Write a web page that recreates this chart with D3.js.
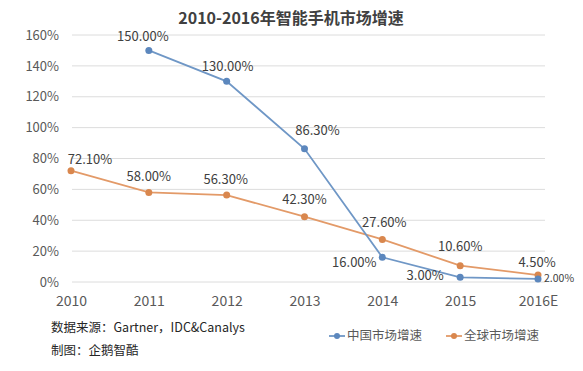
<!DOCTYPE html>
<html>
<head>
<meta charset="utf-8">
<script src="https://cdn.jsdelivr.net/npm/d3@7"></script>
<style>
  body { margin: 0; background: #fff; }
  svg { font-family: "Noto Sans CJK SC", "Open Sans", sans-serif; }
</style>
</head>
<body>
<svg id="chart" width="583" height="371"></svg>
<script>
// Données
const years = ['2010', '2011', '2012', '2013', '2014', '2015', '2016E'];
const chinaGrowth = [null, 150.00, 130.00, 86.30, 16.00, 3.00, 2.00];
const globalGrowth = [72.10, 58.00, 56.30, 42.30, 27.60, 10.60, 4.50];
const yTicks = [0, 20, 40, 60, 80, 100, 120, 140, 160];

// Décalage des étiquettes (dx, dy, ancre)
const chinaLabelPos = [null, [-6, -14], [1, -15], [13, -18], [-28, 5], [-35, -2], [6, -1, 'start']];
const globalLabelPos = [[19, -11], [0, -16], [-1, -16], [0, -17], [2, -17], [0, -19], [-1, -13]];

const svg = d3.select('#chart');
const blue = '#6f97c6';
const blueDot = '#5c87bd';
const orange = '#e39a68';
const orangeDot = '#d9874e';

const x = d3.scalePoint().domain(years).range([71, 538]);
const y = d3.scaleLinear().domain([0, 160]).range([282, 35]);

// Titre
svg.append('text')
    .attr('x', 291).attr('y', 24)
    .attr('text-anchor', 'middle')
    .attr('font-size', 16).attr('font-weight', 'bold')
    .attr('fill', '#404040')
    .text('2010-2016年智能手机市场增速');

// Grille
svg.append('g')
    .selectAll('line')
    .data(yTicks)
    .enter().append('line')
    .attr('x1', 72).attr('x2', 545)
    .attr('y1', d => y(d)).attr('y2', d => y(d))
    .attr('stroke', '#dcdcdc').attr('stroke-width', 1);

// Axe Y
const yAxis = d3.axisLeft(y).tickValues(yTicks).tickSize(0).tickPadding(0).tickFormat(d => d + '%');
svg.append('g')
    .attr('transform', 'translate(59,0)')
    .call(yAxis)
    .call(g => g.select('.domain').remove())
    .call(g => g.selectAll('text').attr('font-size', 13).attr('fill', '#595959')
        .attr('font-family', '"Noto Sans CJK SC", sans-serif'));

// Axe X
const xAxis = d3.axisBottom(x).tickSize(0).tickPadding(0);
svg.append('g')
    .attr('transform', 'translate(0,296)')
    .call(xAxis)
    .call(g => g.select('.domain').remove())
    .call(g => g.selectAll('text').attr('font-size', 14).attr('fill', '#595959')
        .attr('font-family', '"Noto Sans CJK SC", sans-serif'));

function drawSeries(values, lineColor, dotColor, labelPos) {
    const pts = values.map((v, i) => ({ year: years[i], v: v, pos: labelPos[i] })).filter(d => d.v !== null);
    const line = d3.line().x(d => x(d.year)).y(d => y(d.v));

    svg.append('path')
        .datum(pts)
        .attr('d', line)
        .attr('fill', 'none')
        .attr('stroke', lineColor)
        .attr('stroke-width', 1.8);

    svg.append('g')
        .selectAll('circle')
        .data(pts)
        .enter().append('circle')
        .attr('cx', d => x(d.year))
        .attr('cy', d => y(d.v))
        .attr('r', 3.5)
        .attr('fill', dotColor);

    svg.append('g')
        .selectAll('text')
        .data(pts)
        .enter().append('text')
        .attr('x', d => x(d.year) + d.pos[0])
        .attr('y', d => y(d.v) + d.pos[1])
        .attr('dy', '0.35em')
        .attr('text-anchor', d => d.pos[2] || 'middle')
        .attr('font-size', d => d.pos[2] ? 10.5 : 13)
        .attr('fill', '#404040')
        .text(d => d.v.toFixed(2) + '%');
}

drawSeries(globalGrowth, orange, orangeDot, globalLabelPos);
drawSeries(chinaGrowth, blue, blueDot, chinaLabelPos);

// Source
svg.append('text')
    .attr('x', 51).attr('y', 332)
    .attr('font-size', 12.5).attr('fill', '#262626')
    .text('数据来源：Gartner，IDC&Canalys');
svg.append('text')
    .attr('x', 51).attr('y', 355)
    .attr('font-size', 12.5).attr('fill', '#262626')
    .text('制图：企鹅智酷');

// Légende
const legendData = [
    { label: '中国市场增速', line: blue, dot: blueDot, x: 329 },
    { label: '全球市场增速', line: orange, dot: orangeDot, x: 446 }
];
const legend = svg.append('g');
const items = legend.selectAll('g')
    .data(legendData)
    .enter().append('g')
    .attr('transform', d => `translate(${d.x},336)`);
items.append('line')
    .attr('x1', 0).attr('x2', 16)
    .attr('stroke', d => d.line).attr('stroke-width', 1.8);
items.append('circle')
    .attr('cx', 8).attr('r', 3)
    .attr('fill', d => d.dot);
items.append('text')
    .attr('x', 18).attr('dy', '0.35em')
    .attr('font-size', 12.5).attr('fill', '#595959')
    .text(d => d.label);
</script>
</body>
</html>
